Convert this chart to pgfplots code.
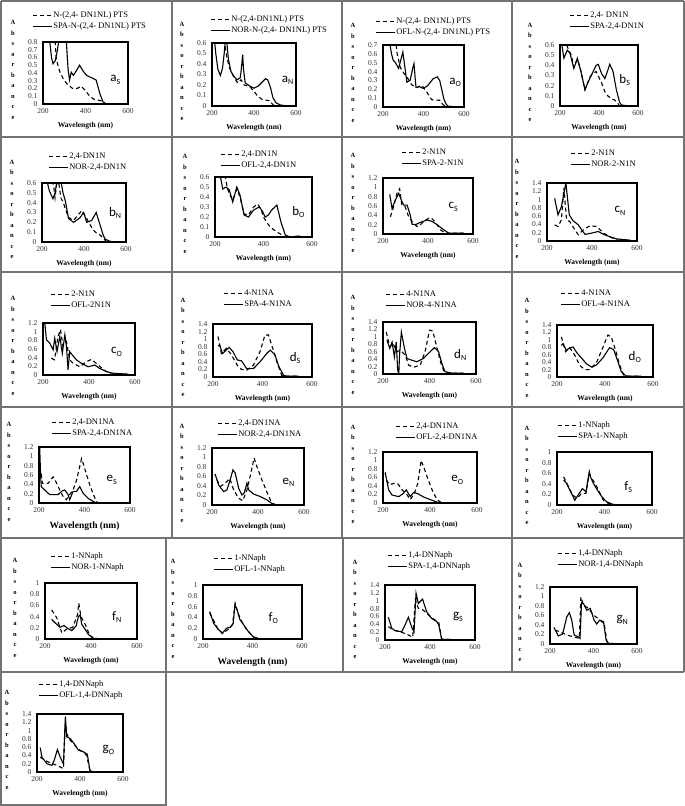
\documentclass[border=0pt]{standalone}
\usepackage{fontspec}
\setmainfont{Liberation Serif}
\newfontfamily\carlito{Carlito}
\usepackage{pgfplots}
\pgfplotsset{compat=1.18}
\pgfplotsset{
 panel/.style={
  scale only axis, xmin=200, xmax=600, ymin=0,
  xtick={200,400,600},
  axis line style={line width=1.2pt},
  tick style={draw=none},
  /pgf/number format/assume math mode=true,
  ticklabel style={font=\fontsize{7.5}{8}\selectfont, text=black!80},
  xticklabel style={yshift=-1pt},
  yticklabel style={xshift=-2pt},
  xlabel={Wavelength (nm)},
  every axis x label/.style={at={(rel axis cs:0.5,0)}, anchor=north, yshift=-15pt, font=\bfseries\fontsize{7.5}{8}\selectfont},
  ylabel={A\\b\\s\\o\\r\\b\\a\\n\\c\\e},
  every axis y label/.style={at={(rel axis cs:0,0.5)}, anchor=center, xshift=-30pt, yshift=3pt, align=center, font=\bfseries\fontsize{6.5}{10.5}\selectfont},
  legend cell align=left,
  legend style={draw=none, fill=none, inner sep=0pt, font=\fontsize{8.5}{9}\selectfont, row sep=1.5pt, nodes={inner sep=1pt}},
  legend image code/.code={\draw[##1] (0pt,0pt) -- (19pt,0pt);},
 },
 dsh/.style={black, line width=1.1pt, dash pattern=on 4pt off 3pt},
 sld/.style={black, line width=1.1pt},
}
\newcommand{\leg}[2]{legend style={at={(rel axis cs:0,1)}, anchor=south west, xshift=#1pt, yshift=#2pt}}
\newcommand{\plab}[4]{\node[font=\carlito\fontsize{13}{13}\selectfont, inner sep=0pt] at (rel axis cs:#1,#2) {#3\raisebox{-2.5pt}{\fontsize{8}{8}\selectfont #4}};}
\begin{document}
\begin{tikzpicture}
\useasboundingbox (0pt,0pt) rectangle (685pt,-806pt);
\fill[white] (0pt,0pt) rectangle (685pt,-806pt);
% panel borders
\begin{scope}[black!55, line width=1.5pt]
\foreach \y in {1,137,272,407,538,672} {\draw (1pt,-\y pt) -- (684pt,-\y pt);}
\foreach \x in {1,172,342,512,684} {\draw (\x pt,-1pt) -- (\x pt,-538pt);}
\foreach \x in {1,166,343,512,684} {\draw (\x pt,-538pt) -- (\x pt,-672pt);}
\draw (1pt,-672pt) -- (1pt,-805pt) -- (166pt,-805pt) -- (166pt,-672pt);
\end{scope}

% ---------- aS
\begin{axis}[panel, at={(43pt,-42pt)}, anchor=north west, width=85pt, height=62pt, ymax=0.8, ytick distance=0.1, \leg{-11}{11}]
\addplot[dsh] coordinates {(255,0.9) (262,0.6) (270,0.5) (280,0.41) (300,0.3) (320,0.24) (340,0.2) (360,0.2) (380,0.23) (400,0.17) (420,0.1) (440,0.06) (460,0.05) (475,0.04) (485,0.01) (500,0)};
\addlegendentry{N-(2,4- DN1NL) PTS}
\addplot[sld] coordinates {(222,1.2) (232,0.8) (240,0.6) (247,0.52) (258,0.56) (268,0.7) (276,0.85) (285,1.3) (300,1.3) (310,0.8) (318,0.45) (325,0.31) (333,0.41) (343,0.37) (355,0.42) (372,0.5) (390,0.42) (405,0.37) (420,0.35) (435,0.33) (450,0.31) (467,0.14) (482,0.03) (498,0) (560,0)};
\addlegendentry{SPA-N-(2,4- DN1NL) PTS}
\plab{0.85}{0.39}{a}{S}
\end{axis}

% ---------- aN
\begin{axis}[panel, at={(212pt,-43pt)}, anchor=north west, width=84pt, height=63pt, ymax=0.6, ytick distance=0.1, \leg{-2}{8}]
\addplot[dsh] coordinates {(258,0.7) (264,0.55) (272,0.45) (284,0.36) (303,0.28) (318,0.23) (326,0.22) (338,0.25) (353,0.2) (380,0.185) (400,0.14) (413,0.105) (437,0.064) (460,0.055) (477,0.05) (490,0.01) (510,0)};
\addlegendentry{N-(2,4-DN1NL) PTS}
\addplot[sld] coordinates {(208,0.7) (218,0.5) (228,0.35) (240,0.29) (250,0.36) (258,0.5) (263,0.62) (270,0.62) (278,0.45) (290,0.33) (305,0.28) (320,0.25) (335,0.27) (342,0.4) (346,0.49) (350,0.35) (358,0.22) (380,0.19) (400,0.17) (420,0.19) (440,0.23) (455,0.26) (465,0.25) (478,0.18) (490,0.08) (505,0.03) (525,0.01) (560,0) (585,0)};
\addlegendentry{NOR-N-(2,4- DN1NL) PTS}
\plab{0.9}{0.41}{a}{N}
\end{axis}

% ---------- aO
\begin{axis}[panel, at={(383pt,-45pt)}, anchor=north west, width=81pt, height=62pt, ymax=0.7, ytick distance=0.1, \leg{-8}{8}]
\addplot[dsh] coordinates {(265,0.7) (270,0.6) (285,0.45) (300,0.39) (318,0.34) (342,0.25) (367,0.22) (391,0.245) (416,0.17) (440,0.083) (460,0.078) (481,0.076) (495,0.03) (510,0)};
\addlegendentry{N-(2,4- DN1NL) PTS}
\addplot[sld] coordinates {(235,0.7) (242,0.6) (250,0.53) (262,0.5) (277,0.435) (290,0.55) (298,0.62) (308,0.45) (318,0.28) (334,0.3) (348,0.45) (353,0.49) (358,0.35) (363,0.22) (380,0.23) (399,0.21) (420,0.24) (448,0.32) (468,0.34) (480,0.3) (490,0.2) (500,0.095) (512,0.03) (521,0.01) (560,0) (580,0)};
\addlegendentry{OFL-N-(2,4- DN1NL) PTS}
\plab{0.89}{0.4}{a}{O}
\end{axis}

% ---------- bS
\begin{axis}[panel, at={(560pt,-45pt)}, anchor=north west, width=78pt, height=61pt, ymax=0.6, ytick distance=0.1, \leg{9}{14}]
\addplot[dsh] coordinates {(234,0.6) (245,0.55) (258,0.5) (271,0.38) (289,0.46) (305,0.36) (328,0.16) (340,0.22) (355,0.29) (370,0.32) (385,0.34) (400,0.28) (415,0.22) (430,0.14) (445,0.1) (465,0.07) (480,0.06) (495,0.03) (505,0) (520,0)};
\addlegendentry{2,4- DN1N}
\addplot[sld] coordinates {(208,0.62) (220,0.47) (237,0.55) (251,0.52) (271,0.37) (289,0.47) (306,0.35) (328,0.16) (345,0.24) (370,0.34) (385,0.4) (396,0.41) (413,0.32) (430,0.27) (445,0.35) (455,0.41) (472,0.34) (489,0.16) (505,0.04) (515,0.01) (557,0)};
\addlegendentry{SPA-2,4-DN1N}
\plab{0.83}{0.43}{b}{S}
\end{axis}

% ---------- bN
\begin{axis}[panel, at={(42pt,-183pt)}, anchor=north west, width=84pt, height=59pt, ymax=0.6, ytick distance=0.1, \leg{6}{11}]
\addplot[dsh] coordinates {(245,0.62) (255,0.58) (262,0.45) (270,0.6) (280,0.6) (290,0.45) (303,0.39) (326,0.25) (350,0.22) (370,0.27) (390,0.32) (405,0.27) (425,0.19) (445,0.12) (460,0.09) (477,0.07) (495,0.03) (508,0)};
\addlegendentry{2,4-DN1N}
\addplot[sld] coordinates {(224,0.62) (235,0.52) (252,0.44) (262,0.5) (272,0.62) (290,0.62) (300,0.5) (311,0.42) (326,0.24) (350,0.2) (370,0.23) (382,0.25) (398,0.3) (413,0.2) (437,0.22) (458,0.3) (477,0.17) (490,0.08) (500,0.03) (520,0.01) (540,0) (575,0)};
\addlegendentry{NOR-2,4-DN1N}
\plab{0.87}{0.49}{b}{N}
\end{axis}

% ---------- bO
\begin{axis}[panel, at={(215pt,-177pt)}, anchor=north west, width=97pt, height=60pt, ymax=0.6, ytick distance=0.1, \leg{5}{7}]
\addplot[dsh] coordinates {(241,0.62) (250,0.5) (259,0.43) (273,0.37) (290,0.48) (303,0.4) (320,0.23) (338,0.22) (359,0.3) (375,0.33) (390,0.28) (400,0.2) (415,0.14) (428,0.1) (455,0.05) (470,0.03) (483,0)};
\addlegendentry{2,4-DN1N}
\addplot[sld] coordinates {(221,0.62) (232,0.48) (246,0.5) (259,0.47) (273,0.35) (290,0.5) (303,0.42) (320,0.22) (338,0.2) (359,0.27) (383,0.3) (395,0.26) (407,0.2) (420,0.22) (434,0.27) (455,0.32) (472,0.15) (490,0.02) (510,0) (545,0.01) (560,0)};
\addlegendentry{OFL-2,4-DN1N}
\plab{0.86}{0.42}{b}{O}
\end{axis}

% ---------- cS
\begin{axis}[panel, at={(383pt,-178pt)}, anchor=north west, width=90pt, height=56pt, ymax=1.2, ytick distance=0.2, \leg{18}{10}]
\addplot[dsh] coordinates {(233,0.37) (247,0.58) (262,0.87) (274,0.97) (284,0.62) (299,0.58) (314,0.37) (329,0.27) (351,0.16) (366,0.2) (381,0.27) (407,0.35) (420,0.32) (433,0.25) (455,0.09) (477,0.02) (500,0.02) (558,0.02)};
\addlegendentry{2-N1N}
\addplot[sld] coordinates {(230,0.85) (240,0.55) (255,0.73) (270,0.87) (281,0.73) (292,0.62) (307,0.62) (321,0.41) (329,0.21) (344,0.2) (366,0.25) (396,0.3) (418,0.27) (440,0.2) (470,0.09) (492,0.02) (520,0.02) (558,0.02)};
\addlegendentry{SPA-2-N1N}
\plab{0.78}{0.48}{c}{S}
\end{axis}

% ---------- cN
\begin{axis}[panel, at={(547pt,-183pt)}, anchor=north west, width=90pt, height=58pt, ymax=1.4, ytick distance=0.2, \leg{23}{14}]
\addplot[dsh] coordinates {(234,0.39) (249,0.35) (264,0.51) (275,1.28) (287,0.51) (301,0.47) (324,0.27) (339,0.15) (361,0.27) (391,0.37) (421,0.35) (451,0.19) (481,0.1) (510,0.02) (570,0.02)};
\addlegendentry{2-N1N}
\addplot[sld] coordinates {(234,1.03) (249,0.63) (264,0.83) (284,1.4) (299,0.63) (316,0.49) (339,0.39) (354,0.27) (369,0.16) (398,0.19) (428,0.23) (451,0.16) (481,0.1) (510,0.05) (570,0.02)};
\addlegendentry{NOR-2-N1N}
\plab{0.81}{0.52}{c}{N}
\end{axis}

% ---------- cO
\begin{axis}[panel, at={(43pt,-323pt)}, anchor=north west, width=92pt, height=52pt, ymax=1.2, ytick distance=0.2, \leg{7}{13}]
\addplot[dsh] coordinates {(236,0.39) (250,0.35) (265,0.89) (276,1.05) (287,0.66) (302,0.77) (316,0.35) (331,0.27) (360,0.19) (389,0.31) (411,0.36) (440,0.23) (469,0.1) (495,0.02) (560,0.02)};
\addlegendentry{2-N1N}
\addplot[sld] coordinates {(207,1.25) (215,0.81) (229,0.74) (244,0.58) (251,0.85) (261,0.54) (273,0.89) (284,0.5) (295,0.93) (302,0.66) (309,0.12) (316,0.54) (328,0.46) (345,0.35) (367,0.27) (396,0.19) (425,0.23) (447,0.15) (476,0.08) (505,0.04) (571,0.02)};
\addlegendentry{OFL-2N1N}
\plab{0.8}{0.44}{c}{O}
\end{axis}

% ---------- dS
\begin{axis}[panel, at={(213pt,-324pt)}, anchor=north west, width=99pt, height=53pt, ymax=1.4, ytick distance=0.2, \leg{10}{15}]
\addplot[dsh] coordinates {(220,1.07) (234,0.62) (254,0.76) (275,0.58) (298,0.31) (315,0.2) (336,0.18) (363,0.31) (390,0.67) (410,1.11) (424,1.11) (437,0.85) (458,0.4) (478,0.04) (500,0.02) (546,0.02)};
\addlegendentry{4-N1NA}
\addplot[sld] coordinates {(220,0.82) (227,0.85) (238,0.62) (247,0.67) (265,0.78) (281,0.67) (298,0.45) (315,0.43) (336,0.22) (363,0.22) (390,0.4) (417,0.62) (431,0.71) (451,0.58) (464,0.31) (485,0.04) (500,0.02) (546,0.02)};
\addlegendentry{SPA-4-N1NA}
\plab{0.83}{0.36}{d}{S}
\end{axis}

% ---------- dN
\begin{axis}[panel, at={(383pt,-322pt)}, anchor=north west, width=93pt, height=52pt, ymax=1.4, ytick distance=0.2, \leg{2}{12}]
\addplot[dsh] coordinates {(214,1.13) (229,0.73) (243,0.82) (260,0.6) (274,0.64) (296,0.51) (310,0.24) (331,0.18) (360,0.24) (381,0.6) (400,1.18) (414,1.16) (431,0.73) (449,0.29) (463,0.06) (500,0.02) (546,0.02)};
\addlegendentry{4-N1NA}
\addplot[sld] coordinates {(217,0.91) (229,0.69) (239,0.86) (249,0.46) (257,0.86) (263,0.11) (268,0.01) (271,0.5) (279,1.13) (291,0.73) (303,0.42) (324,0.37) (346,0.33) (374,0.42) (403,0.6) (421,0.71) (439,0.6) (453,0.29) (467,0.06) (500,0.02) (546,0.02)};
\addlegendentry{NOR-4-N1NA}
\plab{0.83}{0.37}{d}{N}
\end{axis}

% ---------- dO
\begin{axis}[panel, at={(557pt,-325pt)}, anchor=north west, width=96pt, height=52pt, ymax=1.4, ytick distance=0.2, \leg{3}{16}]
\addplot[dsh] coordinates {(218,1.08) (236,0.68) (253,0.79) (274,0.59) (294,0.32) (315,0.2) (336,0.2) (364,0.38) (392,0.81) (412,1.13) (426,1.08) (444,0.72) (461,0.32) (478,0.05) (500,0.02) (551,0.02)};
\addlegendentry{4-N1NA}
\addplot[sld] coordinates {(218,0.85) (225,0.9) (239,0.72) (250,0.77) (267,0.81) (283,0.65) (301,0.52) (322,0.36) (343,0.27) (364,0.32) (392,0.52) (419,0.79) (436,0.74) (454,0.41) (468,0.14) (489,0.02) (551,0.02)};
\addlegendentry{OFL-4-N1NA}
\plab{0.81}{0.38}{d}{O}
\end{axis}

% ---------- eS
\begin{axis}[panel, at={(39pt,-447pt)}, anchor=north west, width=91pt, height=56pt, ymax=1.2, ytick distance=0.2, \leg{12}{9}, xlabel style={font=\bfseries\fontsize{9.5}{10}\selectfont}]
\addplot[dsh] coordinates {(210,0.63) (215,0.42) (240,0.42) (262,0.56) (274,0.46) (291,0.28) (306,0.14) (320,0.07) (335,0.18) (350,0.28) (365,0.49) (379,0.78) (387,0.95) (394,0.85) (412,0.56) (426,0.35) (441,0.16) (456,0) (470,0.01) (490,0)};
\addlegendentry{2,4-DN1NA}
\addplot[sld] coordinates {(203,1.2) (207,0.6) (210,0.35) (225,0.28) (247,0.18) (284,0.18) (299,0.25) (313,0.28) (328,0.18) (335,0.07) (350,0.25) (365,0.25) (379,0.35) (394,0.21) (416,0.1) (438,0.035) (453,0) (470,0)};
\addlegendentry{SPA-2,4-DN1NA}
\plab{0.8}{0.41}{e}{S}
\end{axis}

% ---------- eN
\begin{axis}[panel, at={(212pt,-448pt)}, anchor=north west, width=92pt, height=57pt, ymax=1.2, ytick distance=0.2, \leg{5}{9}]
\addplot[dsh] coordinates {(222,0.53) (236,0.39) (258,0.46) (277,0.56) (294,0.32) (316,0.14) (334,0.09) (352,0.32) (369,0.67) (383,0.99) (395,0.81) (417,0.53) (438,0.28) (460,0.04) (475,0.01) (490,0)};
\addlegendentry{2,4-DN1NA}
\addplot[sld] coordinates {(210,0.64) (214,0.64) (229,0.42) (251,0.28) (265,0.32) (279,0.53) (291,0.74) (301,0.67) (316,0.35) (330,0.21) (340,0.25) (352,0.46) (359,0.32) (381,0.23) (409,0.18) (438,0.11) (460,0.035) (480,0) (496,0)};
\addlegendentry{NOR-2,4-DN1NA}
\plab{0.83}{0.4}{e}{N}
\end{axis}

% ---------- eO
\begin{axis}[panel, at={(383pt,-452pt)}, anchor=north west, width=94pt, height=51pt, ymax=1.2, ytick distance=0.2, \leg{12}{10}]
\addplot[dsh] coordinates {(214,0.54) (228,0.43) (245,0.46) (262,0.46) (281,0.31) (299,0.22) (316,0.08) (333,0.22) (348,0.46) (362,1.0) (373,0.85) (390,0.58) (409,0.31) (430,0.08) (445,0.02) (455,0)};
\addlegendentry{2,4-DN1NA}
\addplot[sld] coordinates {(208,0.68) (210,0.7) (224,0.31) (238,0.19) (267,0.15) (288,0.23) (299,0.31) (316,0.15) (330,0.25) (348,0.22) (373,0.14) (401,0.08) (430,0.02) (458,0) (470,0)};
\addlegendentry{OFL-2,4-DN1NA}
\plab{0.79}{0.45}{e}{O}
\end{axis}

% ---------- fS
\begin{axis}[panel, at={(557pt,-452pt)}, anchor=north west, width=95pt, height=53pt, ymax=1, ytick distance=0.2, \leg{0}{11}]
\addplot[dsh] coordinates {(228,0.53) (247,0.36) (265,0.19) (285,0.125) (303,0.22) (322,0.22) (336,0.59) (346,0.5) (360,0.41) (378,0.25) (395,0.09) (416,0.03) (440,0) (494,0)};
\addlegendentry{1-NNaph}
\addplot[sld] coordinates {(228,0.47) (240,0.41) (261,0.22) (275,0.09) (289,0.19) (307,0.31) (322,0.25) (336,0.63) (341,0.53) (353,0.41) (370,0.28) (388,0.16) (409,0.06) (437,0.01) (494,0)};
\addlegendentry{SPA-1-NNaph}
\plab{0.75}{0.34}{f}{S}
\end{axis}

% ---------- fN
\begin{axis}[panel, at={(45pt,-583pt)}, anchor=north west, width=92pt, height=56pt, ymax=1, ytick distance=0.2, \leg{5}{11}]
\addplot[dsh] coordinates {(229,0.52) (251,0.38) (273,0.11) (295,0.18) (321,0.21) (341,0.43) (347,0.64) (356,0.4) (375,0.26) (393,0.08) (411,0.01) (498,0)};
\addlegendentry{1-NNaph}
\addplot[sld] coordinates {(229,0.35) (251,0.26) (265,0.21) (283,0.24) (295,0.2) (316,0.15) (335,0.23) (345,0.4) (353,0.43) (360,0.26) (375,0.17) (389,0.08) (411,0.01) (498,0)};
\addlegendentry{NOR-1-NNaph}
\plab{0.78}{0.39}{f}{N}
\end{axis}

% ---------- fO
\begin{axis}[panel, at={(203pt,-585pt)}, anchor=north west, width=99pt, height=54pt, ymax=1, ytick distance=0.2, \leg{10}{11}, xlabel style={font=\bfseries\fontsize{9.5}{10}\selectfont}]
\addplot[dsh] coordinates {(227,0.48) (241,0.36) (261,0.18) (279,0.1) (302,0.18) (319,0.26) (330,0.66) (341,0.48) (356,0.33) (375,0.18) (403,0.04) (430,0) (471,0)};
\addlegendentry{1-NNaph}
\addplot[sld] coordinates {(227,0.51) (243,0.29) (261,0.18) (279,0.11) (295,0.2) (311,0.22) (322,0.29) (329,0.63) (338,0.54) (349,0.36) (365,0.26) (383,0.14) (403,0.04) (430,0) (471,0)};
\addlegendentry{OFL-1-NNaph}
\plab{0.71}{0.39}{f}{O}
\end{axis}

% ---------- gS
\begin{axis}[panel, at={(385pt,-585pt)}, anchor=north west, width=90pt, height=55pt, ymax=1.4, ytick distance=0.2, \leg{2}{14}]
\addplot[dsh] coordinates {(215,0.34) (237,0.25) (267,0.21) (296,0.15) (323,0.07) (335,1.02) (348,0.81) (370,0.76) (393,0.64) (422,0.51) (439,0.45) (452,0.02) (548,0)};
\addlegendentry{1,4-DNNaph}
\addplot[sld] coordinates {(215,0.58) (230,0.3) (244,0.24) (274,0.21) (289,0.38) (304,0.58) (319,0.32) (329,0.21) (338,1.19) (348,0.93) (367,1.04) (385,0.72) (407,0.55) (430,0.47) (439,0.38) (452,0.02) (548,0)};
\addlegendentry{SPA-1,4-DNNaph}
\plab{0.81}{0.42}{g}{S}
\end{axis}

% ---------- gN
\begin{axis}[panel, at={(550pt,-587pt)}, anchor=north west, width=87pt, height=57pt, ymax=1.2, ytick distance=0.2, \leg{7}{18}]
\addplot[dsh] coordinates {(223,0.29) (246,0.26) (277,0.19) (308,0.15) (335,0.12) (342,0.99) (354,0.82) (377,0.75) (400,0.61) (431,0.5) (449,0.43) (462,0.05) (480,0) (560,0)};
\addlegendentry{1,4-DNNaph}
\addplot[sld] coordinates {(218,0.35) (238,0.17) (258,0.21) (277,0.57) (289,0.66) (300,0.5) (311,0.19) (331,0.15) (338,0.12) (345,0.87) (354,0.85) (369,0.71) (385,0.75) (403,0.5) (415,0.42) (428,0.5) (446,0.47) (458,0.08) (469,0.014) (554,0)};
\addlegendentry{NOR-1,4-DNNaph}
\plab{0.83}{0.42}{g}{N}
\end{axis}

% ---------- gO
\begin{axis}[panel, at={(37pt,-714pt)}, anchor=north west, width=86pt, height=58pt, ymax=1.4, ytick distance=0.2, \leg{1}{14}]
\addplot[dsh] coordinates {(215,0.36) (238,0.28) (262,0.22) (292,0.16) (323,0.08) (332,1.21) (338,0.93) (354,0.77) (372,0.67) (392,0.55) (415,0.48) (431,0.4) (446,0.04) (462,0) (585,0)};
\addlegendentry{1,4-DNNaph}
\addplot[sld] coordinates {(215,0.59) (223,0.36) (246,0.2) (269,0.16) (280,0.28) (295,0.54) (308,0.36) (323,0.19) (332,1.34) (338,0.85) (354,0.81) (372,0.69) (392,0.53) (415,0.49) (434,0.43) (446,0.04) (462,0) (562,0)};
\addlegendentry{OFL-1,4-DNNaph}
\plab{0.83}{0.38}{g}{O}
\end{axis}
\end{tikzpicture}
\end{document}
